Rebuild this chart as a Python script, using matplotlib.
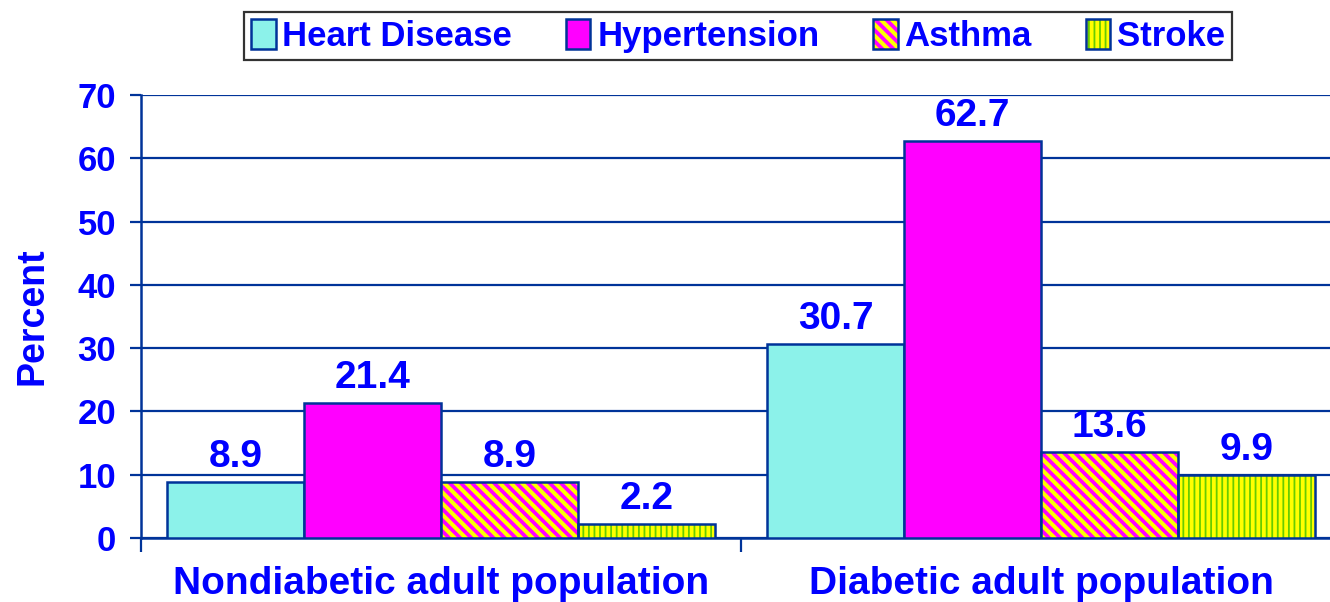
import numpy as np
import matplotlib.pyplot as plt
import matplotlib as mpl

groups = ['Nondiabetic adult population', 'Diabetic adult population']
conditions = ['Heart Disease', 'Hypertension', 'Asthma', 'Stroke']
heart_disease = [8.9, 30.7]
hypertension = [21.4, 62.7]
asthma = [8.9, 13.6]
stroke = [2.2, 9.9]
yticks = [0, 10, 20, 30, 40, 50, 60, 70]

series = [heart_disease, hypertension, asthma, stroke]
# stroke: green base with thick yellow hatch leaves thin green stripes
faces = ['#8CF2EA', '#FF00FF', '#FFFF00', '#66CC00']
hatches = [None, None, '\\\\\\', '|||']
hatch_cols = [None, None, '#FF00FF', '#FFFF00']
edge = '#003399'
blue = '#0000FF'

plt.rcParams['font.family'] = ['Liberation Sans', 'DejaVu Sans']
plt.rcParams['font.weight'] = 'bold'
plt.rcParams['hatch.linewidth'] = 2.7

fig = plt.figure(figsize=(13.3, 6.02), dpi=100)
ax = fig.add_axes([141 / 1330, 1 - 538 / 602, 1200 / 1330, 443 / 602])

x = np.arange(len(groups))
w = 0.228
handles = []
for i, (vals, name) in enumerate(zip(series, conditions)):
    pos = x + (i - 1.5) * w
    if hatches[i]:
        ax.bar(pos, vals, w, color=faces[i], edgecolor=hatch_cols[i],
               hatch=hatches[i], linewidth=0, zorder=3)
        ax.bar(pos, vals, w, color='none', edgecolor=edge, linewidth=1.8, zorder=4)
        h = mpl.patches.Patch(facecolor=faces[i], edgecolor=hatch_cols[i],
                              hatch=hatches[i], linewidth=0)
        handles.append((h, mpl.patches.Patch(facecolor='none', edgecolor=edge, linewidth=1.8)))
    else:
        ax.bar(pos, vals, w, color=faces[i], edgecolor=edge, linewidth=1.8, zorder=3)
        handles.append(mpl.patches.Patch(facecolor=faces[i], edgecolor=edge, linewidth=1.8))
    for px, v in zip(pos, vals):
        ax.annotate(f'{v}', (px, v), xytext=(0, 5), textcoords='offset points',
                    ha='center', va='bottom', fontsize=28, fontweight='bold', color=blue)

ax.set_xlim(-0.5, 1.5)
ax.set_ylim(0, 70)
ax.set_yticks(yticks)
ax.yaxis.grid(True, color=edge, linewidth=1.6, zorder=0)
ax.set_axisbelow(True)
for s in ['top', 'right']:
    ax.spines[s].set_visible(False)
for s in ['left', 'bottom']:
    ax.spines[s].set_color(edge)
    ax.spines[s].set_linewidth(1.8)

ax.tick_params(axis='y', colors=edge, length=8, width=1.6, labelsize=25,
               labelcolor=blue, pad=10)
ax.set_xticks(x)
ax.set_xticklabels(groups)
ax.tick_params(axis='x', which='major', length=0, labelsize=28, labelcolor=blue, pad=20)
ax.set_xticks([-0.5, 0.5, 1.5], minor=True)
ax.tick_params(axis='x', which='minor', length=10, width=1.6, color=edge)
for lbl in ax.get_xticklabels() + ax.get_yticklabels():
    lbl.set_fontweight('bold')

ax.set_ylabel('Percent', fontsize=27, fontweight='bold', color=blue, labelpad=19)

leg = fig.legend(handles, conditions, loc='upper center', bbox_to_anchor=(0.555, 0.98),
                 ncol=4, fontsize=25, frameon=True, fancybox=False,
                 handler_map={tuple: mpl.legend_handler.HandlerTuple(ndivide=1)},
                 handlelength=0.7, handleheight=0.95, handletextpad=0.2,
                 columnspacing=1.55, borderpad=0.2, borderaxespad=0)
leg.get_frame().set_edgecolor('black')
leg.get_frame().set_linewidth(1.6)
for t in leg.get_texts():
    t.set_color(blue)
    t.set_fontweight('bold')

fig.savefig('out.png', dpi=100)
